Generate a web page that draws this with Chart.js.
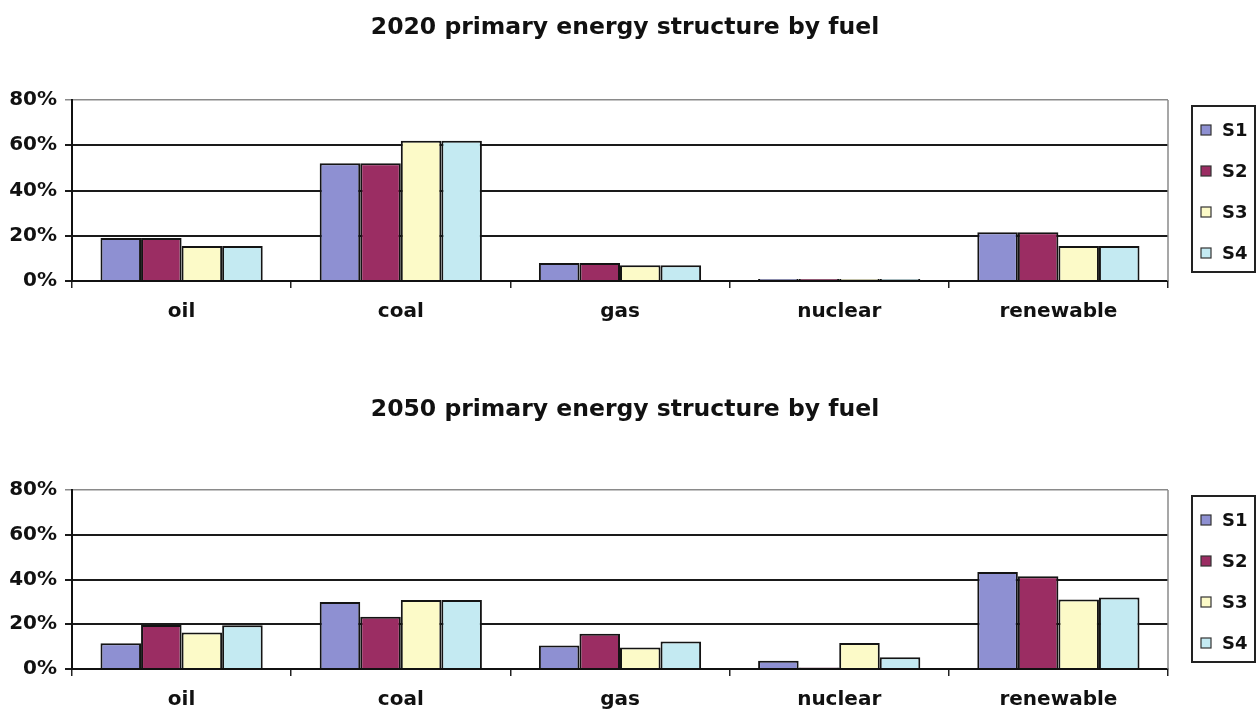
<!DOCTYPE html>
<html>
<head>
<meta charset="utf-8">
<script src="https://cdn.jsdelivr.net/npm/chart.js@4.4.1/dist/chart.umd.min.js"></script>
<style>
  html, body { margin: 0; padding: 0; background: #fff; }
  .wrap { position: relative; width: 1260px; }
  #w1 { height: 340px; }
  #w2 { height: 376px; }
</style>
</head>
<body>
<div class="wrap" id="w1"><canvas id="chart2020"></canvas></div>
<div class="wrap" id="w2"><canvas id="chart2050"></canvas></div>
<script>
// data (percent of primary energy)
const fuels = ['oil', 'coal', 'gas', 'nuclear', 'renewable'];
const scenarios = ['S1', 'S2', 'S3', 'S4'];
const yTicks = [0, 20, 40, 60, 80];

const s1_2020 = [19, 52, 8, 0.9, 21.5];
const s2_2020 = [19, 52, 8, 0.9, 21.5];
const s3_2020 = [15.5, 62, 7, 0.9, 15.5];
const s4_2020 = [15.5, 62, 7, 0.9, 15.5];

const s1_2050 = [11.5, 30, 10.5, 3.7, 43.4];
const s2_2050 = [19.7, 23.4, 15.7, 0.7, 41.5];
const s3_2050 = [16.3, 30.8, 9.6, 11.6, 31.1];
const s4_2050 = [19.5, 30.8, 12.3, 5.3, 31.9];

const fillColors = ['#8e90d2', '#9b2d63', '#fcfac8', '#c4eaf2'];
const edge = '#141414';
const fontFamily = '"DejaVu Sans", sans-serif';

// title (centred on the page), gray right border, boxed legend on the right
const framePlugin = {
    id: 'frame',
    afterDraw(chart, args, opts) {
        const ctx = chart.ctx;
        const a = chart.chartArea;
        ctx.save();
        ctx.fillStyle = '#111';
        ctx.font = 'bold 23.5px ' + fontFamily;
        ctx.textAlign = 'center';
        ctx.textBaseline = 'middle';
        ctx.fillText(opts.title, 625, opts.titleY);

        ctx.strokeStyle = '#8a8a8a';
        ctx.lineWidth = 1.5;
        ctx.beginPath();
        ctx.moveTo(a.right, a.top);
        ctx.lineTo(a.right, a.bottom);
        ctx.stroke();

        const bx = a.right + 24, by = a.top + 6, bw = 63, bh = 166;
        ctx.strokeStyle = '#222';
        ctx.lineWidth = 2;
        ctx.strokeRect(bx, by, bw, bh);

        ctx.font = 'bold 18px ' + fontFamily;
        ctx.textBaseline = 'middle';
        ctx.textAlign = 'left';
        chart.data.datasets.forEach((ds, i) => {
            const cy = by + 24 + i * 41;
            ctx.fillStyle = ds.backgroundColor;
            ctx.fillRect(bx + 9, cy - 5, 10, 10);
            ctx.strokeStyle = '#333';
            ctx.lineWidth = 1.2;
            ctx.strokeRect(bx + 9, cy - 5, 10, 10);
            ctx.fillStyle = '#111';
            ctx.fillText(ds.label, bx + 30, cy + 1);
        });
        ctx.restore();
    }
};

function makeChart(id, titleText, series, pad) {
    const ctx = document.getElementById(id).getContext('2d');
    return new Chart(ctx, {
        type: 'bar',
        data: {
            labels: fuels,
            datasets: series.map((vals, i) => ({
                label: scenarios[i],
                data: vals,
                backgroundColor: fillColors[i],
                borderColor: edge,
                borderWidth: 2,
                categoryPercentage: 0.74,
                barPercentage: 1.0
            }))
        },
        options: {
            responsive: true,
            maintainAspectRatio: false,
            animation: false,
            layout: {
                padding: { left: 0, right: 92, top: pad.top, bottom: pad.bottom }
            },
            plugins: {
                legend: { display: false },
                tooltip: { enabled: false },
                title: { display: false },
                frame: { title: titleText, titleY: pad.titleY }
            },
            scales: {
                x: {
                    offset: true,
                    afterFit(scale) { scale.height = 46; },
                    grid: {
                        offset: true,
                        drawOnChartArea: false,
                        drawTicks: true,
                        tickLength: 7,
                        color: '#222',
                        lineWidth: 1.5
                    },
                    border: { display: true, color: '#111', width: 2 },
                    ticks: {
                        color: '#111',
                        padding: 12,
                        font: { family: fontFamily, size: 20, weight: 'bold' }
                    }
                },
                y: {
                    min: yTicks[0],
                    max: yTicks[yTicks.length - 1],
                    afterFit(scale) { scale.width = 72; },
                    afterBuildTicks(scale) {
                        scale.ticks = yTicks.map(v => ({ value: v }));
                    },
                    grid: {
                        drawTicks: true,
                        tickLength: 7,
                        color: c => (c.tick && c.tick.value === 80) ? '#8a8a8a' : '#1a1a1a',
                        lineWidth: c => (c.tick && c.tick.value === 80) ? 1.5 : 2
                    },
                    border: { display: true, color: '#111', width: 2 },
                    ticks: {
                        color: '#111',
                        padding: 8,
                        font: { family: fontFamily, size: 20, weight: 'bold' },
                        callback: v => v + '%'
                    }
                }
            }
        },
        plugins: [framePlugin]
    });
}

makeChart('chart2020', '2020 primary energy structure by fuel',
    [s1_2020, s2_2020, s3_2020, s4_2020],
    { top: 100, bottom: 13, titleY: 28 });

makeChart('chart2050', '2050 primary energy structure by fuel',
    [s1_2050, s2_2050, s3_2050, s4_2050],
    { top: 150, bottom: 1, titleY: 70 });
</script>
</body>
</html>
